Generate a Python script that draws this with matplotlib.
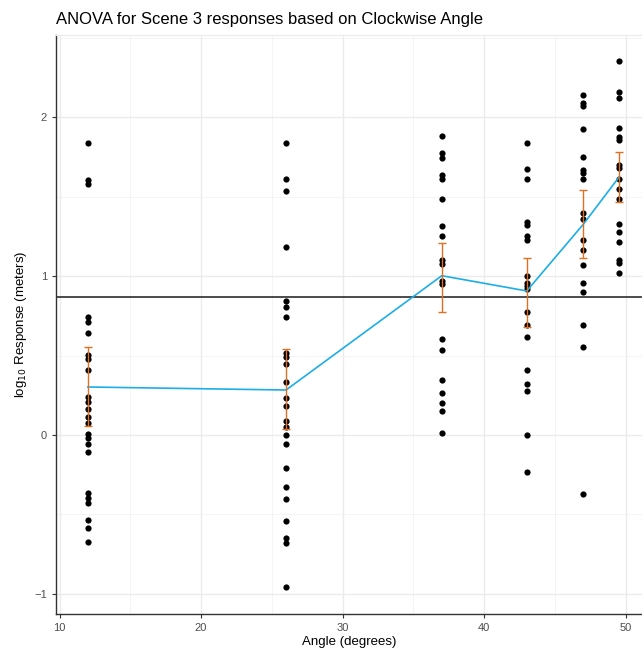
import matplotlib
matplotlib.use("Agg")
import matplotlib.pyplot as plt
from matplotlib.ticker import MultipleLocator

plt.rcParams['font.family'] = ['Liberation Sans', 'DejaVu Sans']

# clockwise angle of each group (degrees)
angles = [12, 26, 37, 43, 47, 49.5]

# log10 responses per angle
resp_12 = [1.835, 1.604, 1.579, 0.744, 0.711, 0.640, 0.503, 0.478, 0.407, 0.241,
           0.208, 0.164, 0.113, 0.075, 0.004, -0.019, -0.057, -0.105, -0.365,
           -0.396, -0.428, -0.535, -0.587, -0.675]
resp_26 = [1.835, 1.608, 1.537, 1.182, 0.840, 0.808, 0.740, 0.514, 0.488, 0.447,
           0.335, 0.231, 0.182, 0.088, 0.050, -0.002, -0.057, -0.210, -0.325,
           -0.400, -0.543, -0.650, -0.680, -0.958]
resp_37 = [1.882, 1.772, 1.744, 1.635, 1.608, 1.482, 1.314, 1.254, 1.101, 1.075,
           0.969, 0.950, 0.602, 0.535, 0.346, 0.262, 0.199, 0.153, 0.014]
resp_43 = [1.835, 1.673, 1.610, 1.342, 1.321, 1.252, 1.226, 1.002, 0.958, 0.937,
           0.916, 0.776, 0.692, 0.618, 0.409, 0.321, 0.279, 0.000, -0.231]
resp_47 = [2.140, 2.091, 2.070, 1.923, 1.750, 1.667, 1.646, 1.608, 1.394, 1.360,
           1.226, 1.164, 1.069, 0.954, 0.897, 0.692, 0.555, -0.371]
resp_49 = [2.352, 2.155, 2.121, 1.933, 1.872, 1.855, 1.698, 1.677, 1.608, 1.545,
           1.482, 1.327, 1.279, 1.216, 1.101, 1.080, 1.017]
responses = [resp_12, resp_26, resp_37, resp_43, resp_47, resp_49]

# group means and 95% interval bounds
group_means = [0.302, 0.283, 1.002, 0.906, 1.326, 1.620]
ci_low = [0.057, 0.040, 0.776, 0.681, 1.111, 1.467]
ci_high = [0.555, 0.541, 1.210, 1.115, 1.541, 1.782]
grand_mean = 0.868

fig = plt.figure(figsize=(6.42, 6.53), dpi=100)
ax = fig.add_axes([0.0872, 0.0597, 0.9128, 0.8867])

ax.set_xlim(9.75, 51.14)
ax.set_ylim(-1.126, 2.516)
ax.xaxis.set_major_locator(MultipleLocator(10))
ax.xaxis.set_minor_locator(MultipleLocator(5))
ax.yaxis.set_major_locator(MultipleLocator(1))
ax.yaxis.set_minor_locator(MultipleLocator(0.5))
ax.grid(which='major', color='#EBEBEB', linewidth=1.0)
ax.grid(which='minor', color='#F2F2F2', linewidth=0.6)
ax.set_axisbelow(True)

for s in ['top', 'right']:
    ax.spines[s].set_color('#EBEBEB')
for s in ['left', 'bottom']:
    ax.spines[s].set_color('#333333')
    ax.spines[s].set_linewidth(1.0)

ax.tick_params(which='major', length=3, width=0.8, color='#333333',
               labelsize=8, labelcolor='#4D4D4D')
ax.tick_params(which='minor', length=0)

ax.axhline(grand_mean, color='#1A1A1A', linewidth=1.1, zorder=2)

for a, vals in zip(angles, responses):
    ax.scatter([a] * len(vals), vals, s=20, color='black', linewidths=0, zorder=3)

ax.plot(angles, group_means, color='#1CAEE6', linewidth=1.2, zorder=4)
yerr = [[m - lo for m, lo in zip(group_means, ci_low)],
        [hi - m for m, hi in zip(group_means, ci_high)]]
ax.errorbar(angles, group_means, yerr=yerr, fmt='none', ecolor='#E0701F',
            elinewidth=1.0, capsize=3, capthick=1.0, zorder=5)

ax.set_xlabel('Angle (degrees)', fontsize=9.5, color='black', labelpad=2)
ax.set_ylabel('log$_{10}$ Response (meters)', fontsize=9.5, color='black', labelpad=4)
ax.set_title('ANOVA for Scene 3 responses based on Clockwise Angle',
             fontsize=12, loc='left', pad=8)

fig.savefig('out.png', dpi=100)
